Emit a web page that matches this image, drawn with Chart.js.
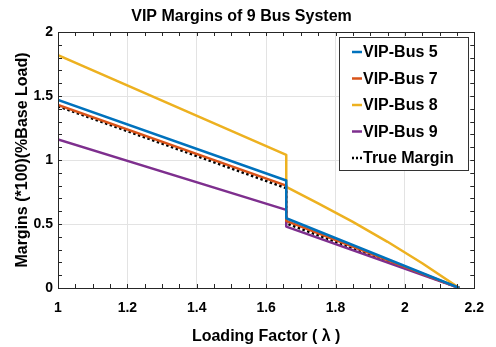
<!DOCTYPE html>
<html><head><meta charset="utf-8">
<script src="https://cdn.jsdelivr.net/npm/chart.js@4/dist/chart.umd.min.js"></script>
<style>html,body{margin:0;padding:0;background:#fff}#wrap{width:496px;height:347px}</style>
</head><body><div id="wrap"><canvas id="c" width="496" height="347"></canvas></div>
<script>
// ---- data ----
const seriesLabels = ['VIP-Bus 5', 'VIP-Bus 7', 'VIP-Bus 8', 'VIP-Bus 9', 'True Margin'];
const stepX   = [1, 1.658, 1.658, 2.157];
const bus5Y   = [1.47, 0.84, 0.545, 0];
const bus7Y   = [1.43, 0.80, 0.525, 0];
const bus8X   = [1, 1.658, 1.658, 1.75, 1.85, 1.95, 2.05, 2.157];
const bus8Y   = [1.82, 1.04, 0.79, 0.661, 0.516, 0.361, 0.193, 0];
const bus9Y   = [1.16, 0.61, 0.48, 0];
const trueY   = [1.42, 0.78, 0.505, 0];
const xTicks  = [1, 1.2, 1.4, 1.6, 1.8, 2, 2.2];
const yTicks  = [0, 0.5, 1, 1.5, 2];

const FONT = "'Liberation Sans', Arial, sans-serif";
const pts = (xs, ys) => xs.map((x, i) => ({x, y: ys[i]}));
const fmt = v => String(+(+v).toFixed(2));
const mk = (label, data, color, dash) => ({
  label, data, borderColor: color, backgroundColor: color,
  borderWidth: 2.5, pointRadius: 0, tension: 0, fill: false,
  borderDash: dash || [], borderCapStyle: 'butt', borderJoinStyle: 'round'
});

const boxPlugin = {
  id: 'box',
  afterDatasetsDraw(chart) {
    const {ctx, chartArea: a, scales: {x, y}} = chart;
    ctx.save();
    ctx.strokeStyle = '#262626';
    ctx.lineWidth = 1;
    ctx.beginPath();
    const L = 4;
    for (let v = 1; v <= 2.2001; v += 0.05) {
      const px = Math.round(x.getPixelForValue(v)) + 0.5;
      ctx.moveTo(px, a.bottom); ctx.lineTo(px, a.bottom - L);
      ctx.moveTo(px, a.top); ctx.lineTo(px, a.top + L);
    }
    for (let v = 0; v <= 2.0001; v += 0.1) {
      const py = Math.round(y.getPixelForValue(v)) + 0.5;
      ctx.moveTo(a.left, py); ctx.lineTo(a.left + L, py);
      ctx.moveTo(a.right, py); ctx.lineTo(a.right - L, py);
    }
    ctx.stroke();
    ctx.strokeRect(Math.round(a.left) + 0.5, Math.round(a.top) + 0.5,
      Math.round(a.right - a.left), Math.round(a.bottom - a.top));
    ctx.restore();
  },
  afterDraw(chart) {
    const {ctx} = chart;
    ctx.save();
    const bx = 339.5, by = 37.5, bw = 129, bh = 133;
    ctx.fillStyle = '#fff';
    ctx.fillRect(bx, by, bw, bh);
    ctx.strokeStyle = '#333';
    ctx.lineWidth = 1;
    ctx.strokeRect(bx, by, bw, bh);
    ctx.font = "bold 16px " + FONT;
    ctx.textBaseline = 'middle';
    ctx.fillStyle = '#000';
    chart.data.datasets.forEach((ds, i) => {
      const yy = 52 + i * 26.5;
      ctx.beginPath();
      ctx.strokeStyle = ds.borderColor;
      ctx.lineWidth = 2.5;
      ctx.setLineDash(ds.borderDash.length ? [2, 2] : []);
      ctx.moveTo(352, yy); ctx.lineTo(362, yy);
      ctx.stroke();
      ctx.setLineDash([]);
      ctx.fillText(ds.label, 363, yy + 1);
    });
    ctx.restore();
  }
};

new Chart(document.getElementById('c'), {
  type: 'line',
  data: {
    datasets: [
      mk(seriesLabels[0], pts(stepX, bus5Y), '#0072BD'),
      mk(seriesLabels[1], pts(stepX, bus7Y), '#D95319'),
      mk(seriesLabels[2], pts(bus8X, bus8Y), '#EDB120'),
      mk(seriesLabels[3], pts(stepX, bus9Y), '#7E2F8E'),
      mk(seriesLabels[4], pts(stepX, trueY), '#000000', [2.5, 2.5])
    ]
  },
  options: {
    responsive: false,
    animation: false,
    devicePixelRatio: 1,
    layout: {padding: {left: 0, right: 13, top: 0, bottom: 0}},
    plugins: {
      legend: {display: false},
      tooltip: {enabled: false},
      title: {
        display: true, text: 'VIP Margins of 9 Bus System', color: '#000',
        font: {family: FONT, size: 16, weight: 'bold'},
        padding: {top: 7, bottom: 5.8}
      }
    },
    scales: {
      x: {
        type: 'linear', min: 1, max: 2.2,
        afterBuildTicks: s => { s.ticks = xTicks.map(v => ({value: v})); },
        afterFit: s => { s.height = 59; },
        grid: {color: '#e3e3e3', drawTicks: false},
        border: {display: false},
        ticks: {color: '#000', padding: 12, maxRotation: 0, callback: fmt,
          font: {family: FONT, size: 14, weight: 'bold'}},
        title: {display: true, text: 'Loading Factor ( λ )', color: '#000',
          font: {family: FONT, size: 16, weight: 'bold'}, padding: {bottom: 0.5, top: 0}}
      },
      y: {
        type: 'linear', min: 0, max: 2,
        afterBuildTicks: s => { s.ticks = yTicks.map(v => ({value: v})); },
        afterFit: s => { s.width = 58; },
        grid: {color: '#e3e3e3', drawTicks: false},
        border: {display: false},
        ticks: {color: '#000', padding: 5, callback: fmt,
          font: {family: FONT, size: 14, weight: 'bold'}},
        title: {display: true, text: 'Margins (*100)(%Base Load)', color: '#000',
          font: {family: FONT, size: 16, weight: 'bold'}, padding: {top: 13.4, bottom: 0}}
      }
    }
  },
  plugins: [boxPlugin]
});
</script>
</body></html>
